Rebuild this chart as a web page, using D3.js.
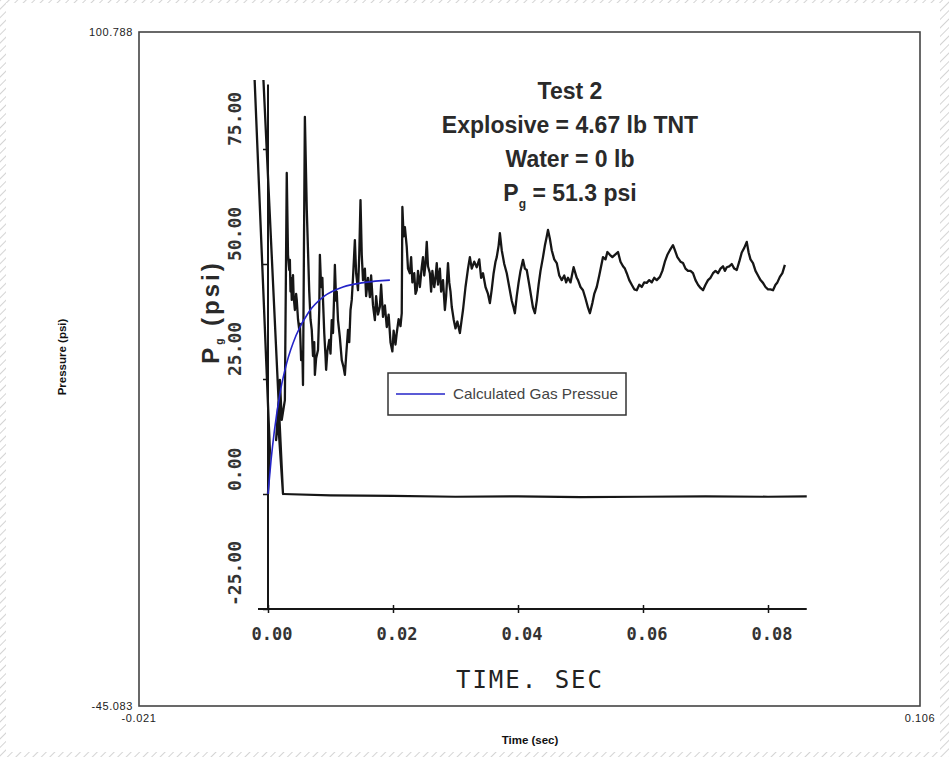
<!DOCTYPE html>
<html>
<head>
<meta charset="utf-8">
<script src="https://cdn.jsdelivr.net/npm/d3@7"></script>
<style>
	body { margin: 0; background: #fff; }
	svg { display: block; }
</style>
</head>
<body>
<div id="chart"></div>
<script>
// Data ==================================================================

// outer axis range (the frame put round the scanned plot)
var outerTimeRange = [-0.021, 0.106];
var outerPsiRange = [-45.083, 100.788];
var outerTimeLabels = ["-0.021", "0.106"];
var outerPsiLabels = ["-45.083", "100.788"];

// scanned plot ticks
var timeTicks = [0, 0.02, 0.04, 0.06, 0.08];
var timeTickLabels = ["0.00", "0.02", "0.04", "0.06", "0.08"];
var psiTicks = [-25, 0, 25, 50, 75];
var psiTickLabels = ["-25.00", "0.00", "25.00", "50.00", "75.00"];

var measTime = [0, 0.0003, -0.0022, -0.0008, 0.0024, 0.0016, 0.0013, 0.0019, 0.0022,
	0.0027, 0.0030, 0.0032, 0.0034, 0.0035, 0.0036, 0.0037, 0.0038, 0.0040, 0.0041,
	0.0043, 0.0045, 0.0046, 0.0048, 0.0050, 0.0051, 0.0053, 0.0055, 0.0056, 0.0059,
	0.0062, 0.0066, 0.0068, 0.0070, 0.0072, 0.0074, 0.0075, 0.0077, 0.0080, 0.0082,
	0.0083, 0.0085, 0.0087, 0.0088, 0.0090, 0.0092, 0.0093, 0.0095, 0.0098, 0.0100,
	0.0102, 0.0104, 0.0106, 0.0107, 0.0109, 0.0110, 0.0112, 0.0115, 0.0118, 0.0121,
	0.0123, 0.0125, 0.0128, 0.0130, 0.0132, 0.0134, 0.0136, 0.0139, 0.0141, 0.0144,
	0.0146, 0.0148, 0.0150, 0.0152, 0.0155, 0.0157, 0.0160, 0.0163, 0.0165, 0.0168,
	0.0171, 0.0173, 0.0176, 0.0179, 0.0181, 0.0184, 0.0187, 0.0190, 0.0193, 0.0196,
	0.0199, 0.0201, 0.0204, 0.0206, 0.0209, 0.0212, 0.0214, 0.0215, 0.0217, 0.0219,
	0.0222, 0.0224, 0.0227, 0.0229, 0.0231, 0.0234, 0.0236, 0.0238, 0.0240, 0.0243,
	0.0246, 0.0248, 0.0250, 0.0252, 0.0254, 0.0256, 0.0259, 0.0261, 0.0263, 0.0266,
	0.0268, 0.0270, 0.0272, 0.0275, 0.0277, 0.0280, 0.0283, 0.0285, 0.0288, 0.0290,
	0.0292, 0.0294, 0.0297, 0.0300, 0.0303, 0.0307, 0.0310, 0.0312, 0.0316, 0.0320,
	0.0323, 0.0326, 0.0330, 0.0334, 0.0338, 0.0341, 0.0344, 0.0348, 0.0352, 0.0355,
	0.0358, 0.0361, 0.0364, 0.0366, 0.0369, 0.0371, 0.0374, 0.0378, 0.0382, 0.0386,
	0.0390, 0.0393, 0.0395, 0.0398, 0.0401, 0.0404, 0.0408, 0.0411, 0.0414, 0.0418,
	0.0421, 0.0424, 0.0427, 0.0430, 0.0433, 0.0436, 0.0440, 0.0443, 0.0446, 0.0448,
	0.0451, 0.0454, 0.0458, 0.0462, 0.0466, 0.0470, 0.0474, 0.0477, 0.0480, 0.0484,
	0.0487, 0.0489, 0.0494, 0.0496, 0.0500, 0.0504, 0.0508, 0.0512, 0.0515, 0.0519,
	0.0522, 0.0526, 0.0530, 0.0533, 0.0536, 0.0540, 0.0543, 0.0547, 0.0551, 0.0555,
	0.0560, 0.0564, 0.0568, 0.0571, 0.0574, 0.0578, 0.0582, 0.0586, 0.0590, 0.0594,
	0.0598, 0.0602, 0.0606, 0.0610, 0.0614, 0.0618, 0.0622, 0.0627, 0.0631, 0.0635,
	0.0639, 0.0643, 0.0648, 0.0651, 0.0655, 0.0660, 0.0664, 0.0668, 0.0672, 0.0676,
	0.0680, 0.0684, 0.0688, 0.0692, 0.0696, 0.0700, 0.0704, 0.0708, 0.0712, 0.0716,
	0.0720, 0.0724, 0.0728, 0.0731, 0.0734, 0.0738, 0.0742, 0.0746, 0.0750, 0.0754,
	0.0758, 0.0762, 0.0766, 0.0769, 0.0772, 0.0776, 0.0780, 0.0784, 0.0788, 0.0792,
	0.0796, 0.0800, 0.0804, 0.0808, 0.0812, 0.0815, 0.0819, 0.0823, 0.0827];
var measPsi = [0, 9.6, 92, 92, 0, 16.1, 11.7, 24.8, 16.1,
	20.4, 69.8, 52.0, 48.7, 50.9, 44.0, 47.0, 42.2, 47.6, 43.0,
	40.0, 43.5, 42.2, 38.0, 35.7, 37.0, 29.1, 31.0, 23.7, 82.0,
	62.0, 44.0, 38.0, 35.7, 30.0, 33.0, 25.9, 29.5, 31.3, 40.0,
	52.0, 45.0, 47.0, 42.2, 35.0, 30.0, 27.0, 31.0, 33.5, 30.5,
	37.8, 35.0, 44.0, 49.8, 42.0, 44.0, 37.8, 34.0, 29.1, 27.5,
	25.9, 30.0, 35.7, 33.0, 40.0, 42.2, 47.0, 55.2, 48.0, 44.3,
	52.0, 63.9, 52.0, 46.5, 49.0, 43.0, 47.0, 42.8, 47.5, 41.0,
	37.8, 43.0, 39.0, 40.7, 45.5, 38.5, 41.0, 36.3, 39.0, 33.0,
	31.0, 35.5, 32.5, 35.0, 38.0, 36.5, 39.3, 62.4, 56.0, 58.0,
	53.7, 49.0, 48.0, 51.5, 46.0, 48.0, 43.5, 44.3, 48.5, 45.0,
	49.3, 51.5, 47.5, 50.0, 54.8, 49.5, 48.0, 44.0, 48.5, 45.0,
	47.0, 50.2, 45.5, 49.0, 44.0, 46.5, 40.0, 43.0, 50.2, 46.0,
	44.0, 40.7, 38.0, 36.0, 37.5, 35.0, 38.0, 40.0, 45.0, 49.0,
	51.5, 49.0, 50.5, 49.3, 51.0, 47.0, 48.0, 45.0, 43.5, 41.5,
	44.5, 48.0, 50.5, 51.5, 54.0, 56.7, 53.0, 50.0, 48.0, 45.0,
	42.0, 40.5, 39.3, 43.0, 46.0, 48.5, 50.9, 49.0, 48.7, 45.5,
	43.0, 40.5, 39.3, 42.0, 45.5, 48.5, 51.5, 54.0, 56.0, 57.4,
	55.5, 53.0, 51.0, 50.2, 47.5, 46.5, 47.5, 46.0, 47.0, 46.0,
	48.0, 49.3, 47.0, 46.5, 45.0, 44.3, 42.5, 40.5, 39.3, 41.5,
	43.5, 45.0, 47.5, 49.5, 51.5, 51.0, 52.6, 52.0, 51.5, 52.0,
	52.6, 50.5, 49.5, 49.0, 48.0, 46.5, 45.5, 44.5, 44.3, 45.5,
	45.0, 46.0, 45.9, 46.5, 46.0, 47.0, 46.5, 47.2, 48.5, 50.5,
	52.0, 53.0, 54.1, 53.0, 51.5, 50.5, 50.2, 49.0, 48.5, 48.5,
	48.0, 46.5, 45.5, 44.8, 44.3, 45.5, 46.5, 47.0, 48.0, 48.5,
	48.0, 49.0, 49.5, 48.5, 49.3, 49.5, 50.0, 49.0, 48.7, 50.5,
	52.5, 53.5, 54.8, 52.5, 51.0, 50.2, 48.5, 47.5, 46.5, 45.9,
	45.0, 44.5, 44.5, 44.3, 45.5, 46.0, 47.2, 48.0, 49.8];

// second channel sitting on zero
var zeroTime = [0.0024, 0.01, 0.02, 0.03, 0.04, 0.05, 0.06, 0.07, 0.08, 0.0862];
var zeroPsi = [0, -0.3, -0.4, -0.6, -0.5, -0.7, -0.6, -0.5, -0.6, -0.5];

// calculated gas pressure
var calcTime = [0, 0.0005, 0.001, 0.002, 0.003, 0.0045, 0.0065, 0.009, 0.012, 0.0155, 0.0195];
var calcPsi = [0, 7.5, 13.5, 22.5, 28.5, 34.5, 39.5, 43.0, 45.0, 46.0, 46.5];

// Setup =================================================================

var W = 949, H = 757;
var svg = d3.select("#chart").append("svg")
	.attr("width", W)
	.attr("height", H);

// hatched page border
var defs = svg.append("defs");
defs.append("pattern")
	.attr("id", "hatch")
	.attr("patternUnits", "userSpaceOnUse")
	.attr("width", 6)
	.attr("height", 6)
	.attr("patternTransform", "rotate(45)")
	.append("line")
	.attr("x1", 0).attr("y1", 0).attr("x2", 0).attr("y2", 6)
	.attr("stroke", "#d4d4d4")
	.attr("stroke-width", 2);

svg.append("rect").attr("width", W).attr("height", H).attr("fill", "url(#hatch)");
svg.append("rect").attr("x", 6).attr("y", 3).attr("width", 934).attr("height", 749).attr("fill", "#fff");

// outer scales
var ox = d3.scaleLinear().domain(outerTimeRange).range([139, 920]);
var oy = d3.scaleLinear().domain(outerPsiRange).range([706, 32]);

// scanned plot scales
var x = d3.scaleLinear().domain([0, 0.08]).range([268, 768]);
var y = d3.scaleLinear().domain([0, 75]).range([494, 149]);

// the scan is cut off just above 90 psi
defs.append("clipPath")
	.attr("id", "scanclip")
	.append("rect")
	.attr("x", 0)
	.attr("y", y(90))
	.attr("width", W)
	.attr("height", H);

// Outer frame ===========================================================

svg.append("rect")
	.attr("x", ox.range()[0])
	.attr("y", oy.range()[1])
	.attr("width", ox.range()[1] - ox.range()[0])
	.attr("height", oy.range()[0] - oy.range()[1])
	.attr("fill", "none")
	.attr("stroke", "#444")
	.attr("stroke-width", 1.6);

var smallFont = "Liberation Sans, Arial, sans-serif";

svg.selectAll(".oylab")
	.data(outerPsiRange)
	.enter().append("text")
	.attr("class", "oylab")
	.attr("x", ox.range()[0] - 6)
	.attr("y", function(d) { return oy(d) + 4; })
	.attr("text-anchor", "end")
	.attr("font-family", smallFont)
	.attr("font-size", 11)
	.attr("letter-spacing", 0.6)
	.attr("fill", "#222")
	.text(function(d, i) { return outerPsiLabels[i]; });

svg.selectAll(".oxlab")
	.data(outerTimeRange)
	.enter().append("text")
	.attr("class", "oxlab")
	.attr("x", function(d) { return ox(d); })
	.attr("y", 722)
	.attr("text-anchor", "middle")
	.attr("font-family", smallFont)
	.attr("font-size", 11)
	.attr("letter-spacing", 0.6)
	.attr("fill", "#222")
	.text(function(d, i) { return outerTimeLabels[i]; });

svg.append("text")
	.attr("x", 530)
	.attr("y", 744)
	.attr("text-anchor", "middle")
	.attr("font-family", smallFont)
	.attr("font-weight", "bold")
	.attr("font-size", 11.5)
	.attr("fill", "#111")
	.text("Time (sec)");

svg.append("text")
	.attr("transform", "translate(66,357) rotate(-90)")
	.attr("text-anchor", "middle")
	.attr("font-family", smallFont)
	.attr("font-weight", "bold")
	.attr("font-size", 11.5)
	.attr("fill", "#111")
	.text("Pressure (psi)");

// Scanned plot ==========================================================

var ink = "#161616";
var mono = "DejaVu Sans Mono, Liberation Mono, monospace";
var sans = "Liberation Sans, Arial, Helvetica, sans-serif";

// axes
var gx = svg.append("g")
	.attr("transform", "translate(0," + y(-25) + ")")
	.call(d3.axisBottom(x).tickValues(timeTicks).tickSize(4).tickFormat(""));
gx.select(".domain").attr("d", "M" + (x(0) - 10) + ",0H" + x(0.0862)).attr("stroke", ink).attr("stroke-width", 2);
gx.selectAll(".tick line").attr("y1", -4).attr("stroke", ink).attr("stroke-width", 1.5);

var gy = svg.append("g")
	.attr("transform", "translate(" + x(0) + ",0)")
	.call(d3.axisLeft(y).tickValues(psiTicks).tickSize(5).tickFormat(""));
gy.select(".domain").attr("d", "M0," + y(-25) + "V" + y(89)).attr("stroke", ink).attr("stroke-width", 2);
gy.selectAll(".tick line").attr("stroke", ink).attr("stroke-width", 1.5);

svg.selectAll(".xlab")
	.data(timeTicks)
	.enter().append("text")
	.attr("class", "xlab")
	.attr("x", function(d) { return x(d) + 4; })
	.attr("y", 640)
	.attr("text-anchor", "middle")
	.attr("font-family", mono)
	.attr("font-weight", "bold")
	.attr("font-size", 17)
	.attr("fill", "#333")
	.text(function(d, i) { return timeTickLabels[i]; });

svg.selectAll(".ylab")
	.data(psiTicks)
	.enter().append("text")
	.attr("class", "ylab")
	.attr("transform", function(d) { return "translate(241," + (y(d) - 3) + ") rotate(-90)"; })
	.attr("text-anchor", "start")
	.attr("font-family", mono)
	.attr("font-weight", "bold")
	.attr("font-size", 18)
	.attr("fill", "#333")
	.text(function(d, i) { return psiTickLabels[i]; });

svg.append("text")
	.attr("x", 530)
	.attr("y", 688)
	.attr("text-anchor", "middle")
	.attr("font-family", mono)
	.attr("font-size", 24)
	.attr("letter-spacing", 2)
	.attr("fill", "#222")
	.text("TIME. SEC");

// Pg (psi) axis title
var yt = svg.append("text")
	.attr("transform", "translate(219,312) rotate(-90)")
	.attr("text-anchor", "middle")
	.attr("font-family", sans)
	.attr("font-weight", "bold")
	.attr("font-size", 24)
	.attr("letter-spacing", 3)
	.attr("fill", "#2a2a2a");
yt.append("tspan").text("P");
yt.append("tspan").attr("font-size", 10).attr("dy", 4).text("g");
yt.append("tspan").attr("dy", -4).text(" (psi)");

// title block
var titleLines = ["Test 2", "Explosive = 4.67 lb TNT", "Water = 0 lb"];
svg.selectAll(".title")
	.data(titleLines)
	.enter().append("text")
	.attr("class", "title")
	.attr("x", 570)
	.attr("y", function(d, i) { return 99 + i * 34; })
	.attr("text-anchor", "middle")
	.attr("font-family", sans)
	.attr("font-weight", "bold")
	.attr("font-size", 23)
	.attr("fill", "#2a2a2a")
	.text(function(d) { return d; });

var pg = svg.append("text")
	.attr("x", 570)
	.attr("y", 201)
	.attr("text-anchor", "middle")
	.attr("font-family", sans)
	.attr("font-weight", "bold")
	.attr("font-size", 23)
	.attr("fill", "#2a2a2a");
pg.append("tspan").text("P");
pg.append("tspan").attr("font-size", 12).attr("dy", 7).text("g");
pg.append("tspan").attr("dy", -7).text(" = 51.3 psi");

// traces
var line = d3.line()
	.x(function(d) { return x(d[0]); })
	.y(function(d) { return y(d[1]); });

var traces = svg.append("g").attr("clip-path", "url(#scanclip)");

traces.append("path")
	.datum(d3.zip(zeroTime, zeroPsi))
	.attr("fill", "none")
	.attr("stroke", ink)
	.attr("stroke-width", 2.2)
	.attr("d", line);

traces.append("path")
	.datum(d3.zip(measTime, measPsi))
	.attr("fill", "none")
	.attr("stroke", ink)
	.attr("stroke-width", 2.3)
	.attr("stroke-linejoin", "round")
	.attr("d", line);

traces.append("path")
	.datum(d3.zip(calcTime, calcPsi))
	.attr("fill", "none")
	.attr("stroke", "#2424c8")
	.attr("stroke-width", 1.6)
	.attr("d", line.curve(d3.curveMonotoneX));

// legend
var legend = svg.append("g").attr("transform", "translate(388,373)");
legend.append("rect")
	.attr("width", 238)
	.attr("height", 42)
	.attr("fill", "#fff")
	.attr("stroke", "#333")
	.attr("stroke-width", 1.5);
legend.append("line")
	.attr("x1", 8).attr("x2", 57)
	.attr("y1", 21).attr("y2", 21)
	.attr("stroke", "#2424c8")
	.attr("stroke-width", 1.6);
legend.append("text")
	.attr("x", 65)
	.attr("y", 26)
	.attr("font-family", sans)
	.attr("font-size", 15)
	.attr("textLength", 165)
	.attr("lengthAdjust", "spacingAndGlyphs")
	.attr("fill", "#444")
	.text("Calculated Gas Pressue");
</script>
</body>
</html>
